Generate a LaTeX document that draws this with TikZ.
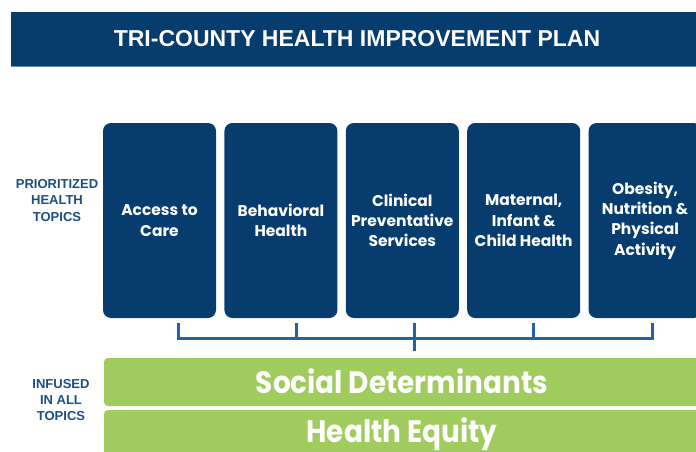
\documentclass[tikz,border=0pt]{standalone}
\usepackage{fontspec}
\setmainfont{Liberation Sans}
\newfontfamily\topicfont{Poppins}
\newfontfamily\bandfont{Poppins}[FakeStretch=0.9]
\usetikzlibrary{positioning}
\definecolor{navy}{HTML}{063D6E}
\definecolor{rimblue}{HTML}{6A8FB5}
\definecolor{labelblue}{HTML}{1B4F83}
\definecolor{linkblue}{HTML}{2463A0}
\definecolor{leafgreen}{HTML}{A0CB5D}

\begin{document}
\begin{tikzpicture}[x=1pt, y=-1pt,
  topic/.style={fill=navy, rounded corners=8pt, minimum width=113pt, minimum height=195pt,
    inner sep=0pt, text=white, align=center, font=\topicfont\bfseries\fontsize{15.5}{20.3}\selectfont},
  band/.style={fill=leafgreen, rounded corners=4pt, minimum width=596pt, minimum height=48pt,
    inner sep=0pt, text height=22pt, text depth=0pt, text=white, font=\bandfont\bfseries\fontsize{31}{32}\selectfont},
  sidelabel/.style={text=labelblue, align=center, font=\bfseries\fontsize{13}{16.3}\selectfont},
  link/.style={draw=linkblue, line width=3pt}]
\newcommand{\Boxgap}{8pt}; % gap between topic boxes
\newcommand{\Tickdrop}{15}; % length of the bracket ticks

\useasboundingbox (0,0) rectangle (696,452);

% title bar
\node[fill=navy, minimum width=692pt, minimum height=54pt, inner sep=0pt, text=white,
  font=\bfseries\fontsize{23}{23}\selectfont] (banner) at (357,39) {TRI-COUNTY HEALTH IMPROVEMENT PLAN};
\draw[rimblue, line width=1pt] (banner.south west) -- (banner.south east);

% prioritized topics
\node[topic] (access) at (159.5,220.5) {Access to\\Care};
\node[topic, right=\Boxgap of access] (behavioral) {Behavioral\\Health};
\node[topic, right=\Boxgap of behavioral] (clinical) {Clinical\\Preventative\\Services};
\node[topic, right=\Boxgap of clinical] (maternal) {Maternal,\\Infant \&\\Child Health};
\node[topic, right=\Boxgap of maternal] (obesity) {Obesity,\\Nutrition \&\\Physical\\Activity};

\node[sidelabel] (prioritized) at (57,200.5) {PRIORITIZED\\HEALTH\\TOPICS};

% bracket
\coordinate (t1) at (178,323);
\coordinate (t2) at (296,323);
\coordinate (t3) at (414,323);
\coordinate (t4) at (533,323);
\coordinate (t5) at (652,323);
\coordinate (stem) at (414,351);
\draw[link] (t1) -- ++(0,\Tickdrop) -| (t5);
\draw[link] (t2) -- ++(0,\Tickdrop);
\draw[link] (t4) -- ++(0,\Tickdrop);
\draw[link] (t3) -- (stem);

% infused in all topics
\node[band] (social) at (402,382) {Social Determinants};
\node[band, text depth=6pt] (equity) at (402,434) {Health Equity};

\node[sidelabel] (infused) at (61,400) {INFUSED\\IN ALL\\TOPICS};
\end{tikzpicture}
\end{document}
